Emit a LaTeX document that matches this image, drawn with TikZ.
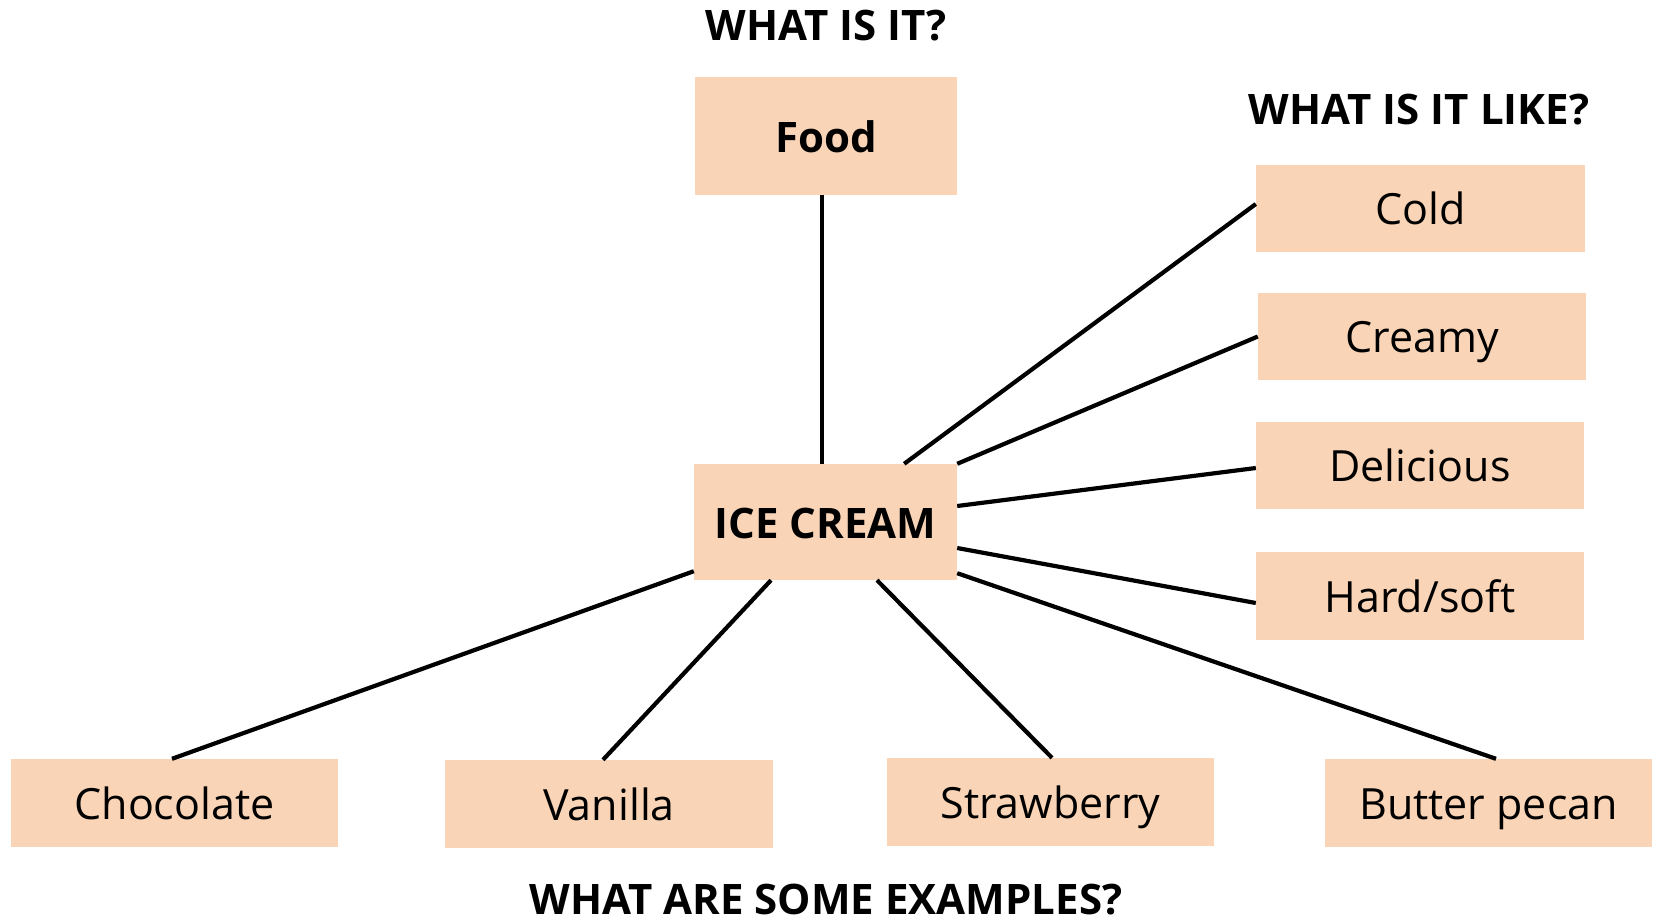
\documentclass[tikz,border=0pt]{standalone}
\usepackage{fontspec}
\setmainfont{Open Sans}
\begin{document}
\begin{tikzpicture}[x=1pt,y=-1pt,
  box/.style={fill=boxfill, draw=none, inner sep=0pt, text height=36pt, text depth=4pt, font=\fontsize{43}{48}\selectfont},
  boldbox/.style={box, font=\fontsize{42}{48}\selectfont\bfseries},
  head/.style={inner sep=0pt, anchor=base, font=\fontsize{42}{48}\selectfont\bfseries},
  link/.style={line width=4.2pt, black}]
\definecolor{boxfill}{HTML}{F9D4B6}
\useasboundingbox (0,0) rectangle (1654,919);
% headings
\node[head] (h1) at (826,40) {WHAT IS IT?};
\node[head] (h2) at (1419,124) {WHAT IS IT LIKE?};
\node[head] (h3) at (826,914) {WHAT ARE SOME EXAMPLES?};
% boxes
\node[boldbox, minimum width=262pt, minimum height=118pt] (food) at (826,136) {Food};
\node[boldbox, minimum width=263pt, minimum height=116pt] (ice) at (825.5,522) {ICE CREAM};
\node[box, minimum width=329pt, minimum height=87pt] (cold) at (1420.5,208.5) {Cold};
\node[box, minimum width=328pt, minimum height=87pt] (creamy) at (1422,336.5) {Creamy};
\node[box, minimum width=328pt, minimum height=87pt] (delicious) at (1420,465.5) {Delicious};
\node[box, minimum width=328pt, minimum height=88pt] (hard) at (1420,596) {Hard/soft};
\node[box, minimum width=327pt, minimum height=88pt] (choc) at (174.5,803) {Chocolate};
\node[box, minimum width=328pt, minimum height=88pt] (vanilla) at (609,804) {Vanilla};
\node[box, minimum width=327pt, minimum height=88pt] (straw) at (1050.5,802) {Strawberry};
\node[box, minimum width=327pt, minimum height=88pt] (butter) at (1488.5,803) {Butter pecan};
% connectors
\draw[link] ([xshift=-4pt]food.south) -- ([xshift=-3.5pt]ice.north);
\draw[link] ([xshift=-53pt]ice.north east) -- ([yshift=4.5pt]cold.west);
\draw[link] (ice.north east) -- (creamy.west);
\draw[link] ([yshift=16pt]ice.east) -- ([yshift=-2.5pt]delicious.west);
\draw[link] ([yshift=-26pt]ice.east) -- ([yshift=-7pt]hard.west);
\draw[link] ([yshift=7pt]ice.south east) -- ([xshift=7.5pt]butter.north);
\draw[link] ([xshift=51.5pt]ice.south) -- ([xshift=1.5pt]straw.north);
\draw[link] ([xshift=-54.5pt]ice.south) -- ([xshift=-6pt]vanilla.north);
\draw[link] ([yshift=9pt]ice.south west) -- ([xshift=-2.5pt]choc.north);
\end{tikzpicture}
\end{document}
